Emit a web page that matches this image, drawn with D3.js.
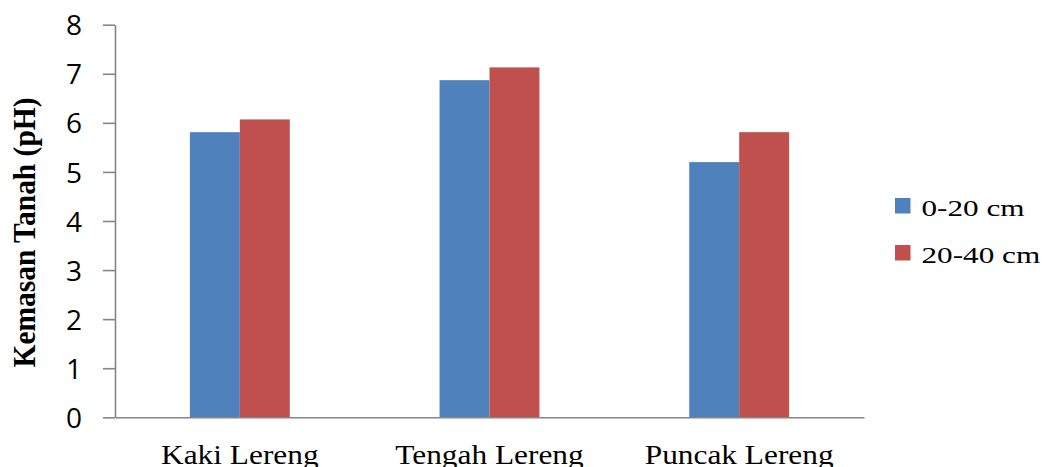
<!DOCTYPE html>
<html>
<head>
<meta charset="utf-8">
<script src="https://cdn.jsdelivr.net/npm/d3@7"></script>
<style>
  html, body { margin: 0; padding: 0; background: #fff; }
  svg { display: block; }
</style>
</head>
<body>
<svg id="chart" width="1043" height="467"></svg>
<script>
// Soil pH by slope position and sampling depth
const categories = ["Kaki Lereng", "Tengah Lereng", "Puncak Lereng"];
const seriesNames = ["0-20 cm", "20-40 cm"];
const depth0to20 = [5.81, 6.87, 5.20];
const depth20to40 = [6.07, 7.13, 5.81];
const yTicks = [0, 1, 2, 3, 4, 5, 6, 7, 8];
const yTitle = "Kemasan Tanah (pH)";

const colors = ["#4F81BD", "#C0504D"];
const seriesValues = [depth0to20, depth20to40];

const svg = d3.select("#chart");
const axisColor = "#868686";
const serif = "'Liberation Serif', 'Times New Roman', serif";

const x = d3.scaleBand()
  .domain(categories)
  .range([115, 864])
  .paddingInner(0.6)
  .paddingOuter(0.3);

const xSub = d3.scaleBand()
  .domain(seriesNames)
  .range([0, x.bandwidth()]);

const y = d3.scaleLinear()
  .domain([0, 8])
  .range([417.3, 24.7]);

const color = d3.scaleOrdinal().domain(seriesNames).range(colors);

// bars
const rows = categories.map((c, i) => ({
  cat: c,
  vals: seriesNames.map((s, j) => ({ series: s, value: seriesValues[j][i] }))
}));

const groups = svg.append("g").selectAll("g")
  .data(rows)
  .join("g")
  .attr("transform", d => `translate(${x(d.cat)},0)`);

groups.selectAll("rect")
  .data(d => d.vals)
  .join("rect")
  .attr("x", d => xSub(d.series))
  .attr("y", d => y(d.value))
  .attr("width", xSub.bandwidth())
  .attr("height", d => y(0) - y(d.value))
  .attr("fill", d => color(d.series));

// y axis
const yAxis = svg.append("g")
  .attr("transform", "translate(115,0)")
  .call(d3.axisLeft(y).tickValues(yTicks).tickSize(12).tickSizeOuter(0).tickPadding(21));
yAxis.select(".domain").attr("stroke", axisColor).attr("stroke-width", 1.6);
yAxis.selectAll(".tick line").attr("stroke", axisColor).attr("stroke-width", 1.6);
yAxis.selectAll(".tick text")
  .attr("font-family", "'Open Sans', sans-serif")
  .attr("font-size", 28)
  .attr("fill", "#000")
  .attr("dy", "0.36em");

// x axis baseline
const xAxis = svg.append("g")
  .attr("transform", `translate(0,${y(0)})`)
  .call(d3.axisBottom(x).tickSize(0).tickPadding(0));
xAxis.select(".domain").attr("stroke", axisColor).attr("stroke-width", 1.6);
xAxis.selectAll(".tick text").remove();

// category labels
const catLabel = svg.append("g");
categories.forEach(c => {
  const cx = x(c) + x.bandwidth() / 2;
  catLabel.append("text")
    .attr("transform", `translate(${cx},463.5) scale(1.12,1)`)
    .attr("text-anchor", "middle")
    .attr("font-family", serif)
    .attr("font-size", 28)
    .attr("fill", "#000")
    .text(c);
});

// y axis title
svg.append("text")
  .attr("transform", "translate(35,232.5) rotate(-90) scale(0.95,1)")
  .attr("text-anchor", "middle")
  .attr("font-family", serif)
  .attr("font-weight", "bold")
  .attr("font-size", 31)
  .attr("fill", "#000")
  .text(yTitle);

// legend
const legend = svg.append("g");
seriesNames.forEach((s, i) => {
  const ly = 205.5 + i * 47;
  legend.append("rect")
    .attr("x", 895)
    .attr("y", ly - 7.5)
    .attr("width", 15.5)
    .attr("height", 15.5)
    .attr("fill", color(s));
  legend.append("text")
    .attr("transform", `translate(921.5,${ly + 10.5}) scale(1.3,1)`)
    .attr("font-family", serif)
    .attr("font-size", 24)
    .attr("fill", "#000")
    .text(s);
});
</script>
</body>
</html>
